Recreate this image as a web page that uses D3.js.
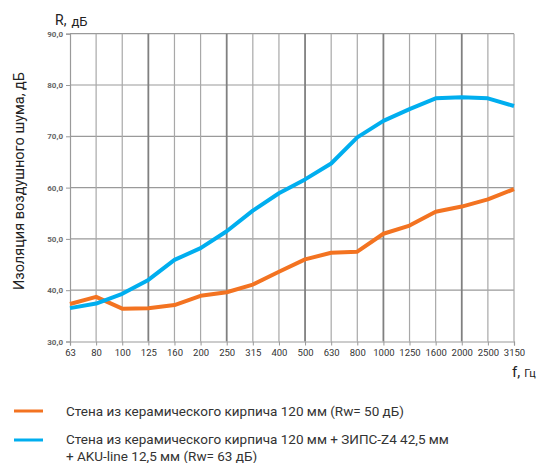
<!DOCTYPE html>
<html><head><meta charset="utf-8">
<script src="https://cdn.jsdelivr.net/npm/d3@7"></script>
<style>body{margin:0;background:#fff;} svg{display:block;font-family:Roboto, "Noto Sans", sans-serif;}</style>
</head><body>
<svg id="c" width="543" height="463"></svg>
<script>
const categories = ["63","80","100","125","160","200","250","315","400","500","630","800","1000","1250","1600","2000","2500","3150"];
const brickValues = [37.3,38.7,36.4,36.5,37.1,38.9,39.6,41.1,43.6,46.0,47.3,47.5,51.0,52.6,55.3,56.3,57.7,59.7];
const brickZipsValues = [36.5,37.4,39.3,42.0,45.9,48.2,51.5,55.5,58.9,61.6,64.7,69.8,73.0,75.3,77.4,77.6,77.4,75.9];
const yTicks = [30,40,50,60,70,80,90];
const octaveCats = ["125","250","500","1000","2000"];
const seriesNames = ["Стена из керамического кирпича 120 мм (Rw= 50 дБ)",
  ["Стена из керамического кирпича 120 мм + ЗИПС-Z4 42,5 мм","+ AKU-line 12,5 мм (Rw= 63 дБ)"]];
const colors = ["#F37321","#00AEEF"];

const svg = d3.select("#c");
const x = d3.scalePoint().domain(categories).range([70,514]);
const y = d3.scaleLinear().domain([30,90]).range([341.5,33.7]);

// horizontal grid
svg.append("g").selectAll("line").data(yTicks.slice(1)).join("line")
  .attr("x1",70).attr("x2",514).attr("y1",d=>y(d)).attr("y2",d=>y(d))
  .attr("stroke","#9a9a9a").attr("stroke-width",1.2);
// vertical grid
svg.append("g").selectAll("line").data(categories.slice(1)).join("line")
  .attr("x1",d=>x(d)).attr("x2",d=>x(d)).attr("y1",y(90)).attr("y2",y(30))
  .attr("stroke",d=>octaveCats.includes(d)?"#808080":"#a8a8a8")
  .attr("stroke-width",d=>octaveCats.includes(d)?1.8:1.2);

// axes
const yAxis = d3.axisLeft(y).tickValues(yTicks).tickSize(4).tickPadding(3)
  .tickFormat(d=>d3.format(".1f")(d).replace(".",","));
const gy = svg.append("g").attr("transform","translate(70,0)").call(yAxis);
gy.select(".domain").attr("stroke","#9a9a9a").attr("stroke-width",1.2);
gy.selectAll(".tick line").attr("stroke","#9a9a9a");
gy.selectAll("text").attr("font-size",8).attr("font-weight","bold").attr("fill","#666")
  .attr("font-family","Roboto, sans-serif");

const xAxis = d3.axisBottom(x).tickSize(4).tickPadding(4);
const gx = svg.append("g").attr("transform","translate(0,"+y(30)+")").call(xAxis);
gx.select(".domain").attr("stroke","#9a9a9a").attr("stroke-width",1.2);
gx.selectAll(".tick line").attr("stroke","#9a9a9a");
gx.selectAll("text").attr("font-size",9.5).attr("fill","#333").attr("font-family","Roboto, sans-serif");

// lines
const line = d3.line().x((d,i)=>x(categories[i])).y(d=>y(d));
[brickValues, brickZipsValues].forEach((vals,k)=>{
  svg.append("path").datum(vals).attr("d",line).attr("fill","none")
    .attr("stroke",colors[k]).attr("stroke-width",4).attr("stroke-linejoin","round");
});

// axis titles
const rt = svg.append("text").attr("x",55).attr("y",26).attr("fill","#222");
rt.append("tspan").attr("font-size",14).attr("dy",-1).text("R,");
rt.append("tspan").attr("dx",5).attr("dy",1).attr("font-size",13).text("дБ");
svg.append("text").attr("transform","translate(24,181) rotate(-90)").attr("text-anchor","middle")
  .attr("font-size",14.5).attr("fill","#222").text("Изоляция воздушного шума, дБ");
const ft = svg.append("text").attr("x",512).attr("y",377).attr("fill","#222");
ft.append("tspan").attr("font-size",15).text("f,");
ft.append("tspan").attr("dx",4).attr("font-size",11).text("Гц");

// legend
const lg = svg.append("g");
lg.append("line").attr("x1",14).attr("x2",43).attr("y1",411).attr("y2",411).attr("stroke",colors[0]).attr("stroke-width",3);
lg.append("text").attr("x",66).attr("y",416).attr("font-size",13.5).attr("fill","#333").text(seriesNames[0]);
lg.append("line").attr("x1",14).attr("x2",43).attr("y1",440).attr("y2",440).attr("stroke",colors[1]).attr("stroke-width",3);
lg.append("text").attr("x",66).attr("y",444).attr("font-size",13.5).attr("fill","#333").text(seriesNames[1][0]);
lg.append("text").attr("x",66).attr("y",461).attr("font-size",13.5).attr("fill","#333").text(seriesNames[1][1]);
</script>
</body></html>
